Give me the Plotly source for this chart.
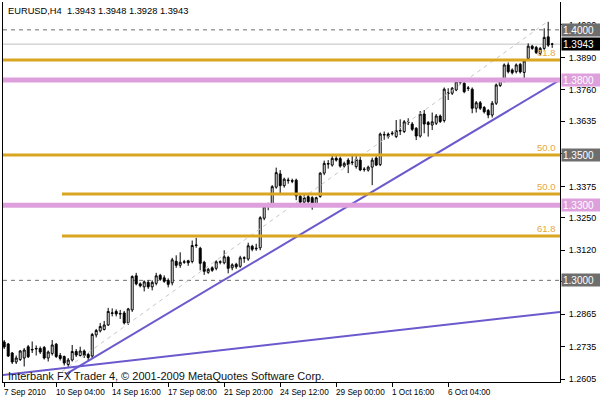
import plotly.graph_objects as go

# ---------------- data ----------------
opens = [1.2754,1.2746,1.2710,1.2674,1.2684,1.2690,1.2735,1.2722,1.2726,1.2728,
         1.2732,1.2690,1.2708,1.2745,1.2700,1.2696,1.2664,1.2682,1.2716,1.2700,
         1.2718,1.2704,1.2698,1.2782,1.2798,1.2804,1.2822,1.2868,1.2876,1.2868,
         1.2870,1.2830,1.2882,1.3018,1.2986,1.2974,1.2992,1.2974,1.2988,1.3020,
         1.3010,1.3000,1.2990,1.3076,1.3060,1.3072,1.3078,1.3075,1.3139,1.3128,
         1.3072,1.3032,1.3050,1.3048,1.3072,1.3070,1.3092,1.3050,1.3064,1.3056,
         1.3088,1.3085,1.3136,1.3126,1.3130,1.3248,1.3296,1.3300,1.3372,1.3425,
         1.3378,1.3398,1.3398,1.3400,1.3336,1.3312,1.3334,1.3330,1.3306,1.3335,
         1.3428,1.3464,1.3460,1.3487,1.3486,1.3456,1.3480,1.3470,1.3454,1.3480,
         1.3442,1.3440,1.3452,1.3488,1.3462,1.3580,1.3584,1.3585,1.3574,1.3596,
         1.3594,1.3630,1.3624,1.3607,1.3576,1.3664,1.3630,1.3620,1.3627,1.3656,
         1.3638,1.3746,1.3747,1.3760,1.3790,1.3787,1.3766,1.3763,1.3687,1.3709,
         1.3690,1.3678,1.3660,1.3707,1.3778,1.3798,1.3860,1.3840,1.3833,1.3862,
         1.3830,1.3886,1.3935,1.3930,1.3906,1.3926,1.3972,1.3943]
highs = [1.2762,1.2750,1.2714,1.2700,1.2722,1.2730,1.2742,1.2756,1.2740,1.2736,
         1.2738,1.2720,1.2762,1.2750,1.2710,1.2700,1.2690,1.2742,1.2726,1.2735,
         1.2724,1.2710,1.2790,1.2806,1.2830,1.2838,1.2890,1.2888,1.2884,1.2882,
         1.2878,1.2890,1.3020,1.3030,1.2992,1.3000,1.3000,1.3000,1.3030,1.3026,
         1.3020,1.3008,1.3090,1.3100,1.3112,1.3082,1.3082,1.3159,1.3170,1.3134,
         1.3078,1.3050,1.3056,1.3080,1.3080,1.3120,1.3098,1.3068,1.3070,1.3098,
         1.3096,1.3150,1.3142,1.3146,1.3256,1.3300,1.3310,1.3380,1.3450,1.3440,
         1.3410,1.3410,1.3406,1.3406,1.3340,1.3344,1.3342,1.3336,1.3334,1.3432,
         1.3478,1.3480,1.3500,1.3500,1.3494,1.3474,1.3488,1.3502,1.3496,1.3494,
         1.3452,1.3458,1.3490,1.3496,1.3590,1.3594,1.3590,1.3596,1.3640,1.3643,
         1.3640,1.3647,1.3632,1.3612,1.3676,1.3680,1.3636,1.3670,1.3664,1.3662,
         1.3770,1.3767,1.3772,1.3800,1.3800,1.3796,1.3776,1.3770,1.3716,1.3716,
         1.3696,1.3684,1.3716,1.3786,1.3806,1.3866,1.3870,1.3846,1.3866,1.3868,
         1.3880,1.3946,1.3940,1.3936,1.3932,1.4006,1.4032,1.3948]
lows = [1.2726,1.2694,1.2666,1.2666,1.2678,1.2656,1.2690,1.2710,1.2700,1.2706,
        1.2684,1.2676,1.2700,1.2690,1.2680,1.2660,1.2650,1.2676,1.2694,1.2696,
        1.2690,1.2680,1.2690,1.2772,1.2792,1.2800,1.2818,1.2856,1.2856,1.2846,
        1.2824,1.2822,1.2874,1.2980,1.2972,1.2956,1.2966,1.2960,1.2980,1.2998,
        1.2990,1.2972,1.2980,1.3050,1.3050,1.3066,1.3058,1.3068,1.3130,1.3040,
        1.3022,1.3026,1.3034,1.3040,1.3064,1.3064,1.3028,1.3040,1.3046,1.3050,
        1.3070,1.3078,1.3116,1.3118,1.3120,1.3240,1.3280,1.3292,1.3366,1.3348,
        1.3370,1.3386,1.3388,1.3320,1.3300,1.3306,1.3306,1.3282,1.3300,1.3330,
        1.3420,1.3446,1.3454,1.3474,1.3450,1.3450,1.3428,1.3460,1.3446,1.3436,
        1.3434,1.3434,1.3380,1.3456,1.3456,1.3561,1.3566,1.3578,1.3568,1.3580,
        1.3588,1.3620,1.3596,1.3560,1.3570,1.3587,1.3574,1.3600,1.3620,1.3628,
        1.3630,1.3720,1.3740,1.3755,1.3780,1.3747,1.3756,1.3667,1.3670,1.3680,
        1.3666,1.3647,1.3650,1.3700,1.3772,1.3790,1.3826,1.3822,1.3826,1.3826,
        1.3806,1.3880,1.3920,1.3904,1.3898,1.3920,1.3932,1.3928]
closes = [1.2734,1.2698,1.2674,1.2690,1.2718,1.2722,1.2695,1.2724,1.2728,1.2714,
          1.2690,1.2714,1.2742,1.2696,1.2688,1.2670,1.2682,1.2716,1.2702,1.2718,
          1.2700,1.2692,1.2784,1.2800,1.2816,1.2822,1.2876,1.2870,1.2866,1.2866,
          1.2830,1.2886,1.3015,1.2986,1.2978,1.2994,1.2974,1.2992,1.3018,1.3004,
          1.2996,1.2984,1.3082,1.3060,1.3072,1.3074,1.3070,1.3139,1.3141,1.3068,
          1.3036,1.3044,1.3040,1.3074,1.3074,1.3094,1.3048,1.3062,1.3054,1.3090,
          1.3090,1.3138,1.3124,1.3128,1.3250,1.3294,1.3298,1.3374,1.3430,1.3378,
          1.3404,1.3400,1.3396,1.3337,1.3312,1.3330,1.3314,1.3306,1.3330,1.3428,
          1.3467,1.3466,1.3487,1.3480,1.3456,1.3467,1.3461,1.3472,1.3483,1.3441,
          1.3444,1.3452,1.3480,1.3460,1.3584,1.3582,1.3574,1.3587,1.3598,1.3598,
          1.3633,1.3632,1.3603,1.3576,1.3664,1.3624,1.3622,1.3633,1.3656,1.3634,
          1.3763,1.3748,1.3767,1.3793,1.3792,1.3753,1.3768,1.3687,1.3709,1.3687,
          1.3673,1.3660,1.3707,1.3780,1.3800,1.3860,1.3833,1.3829,1.3860,1.3832,
          1.3876,1.3935,1.3926,1.3909,1.3926,1.3970,1.3939,1.3943]
bars = list(range(len(closes)))

# time axis labels (bar index, text)
time_tick_bars = [0, 13, 27, 41, 55, 69, 83, 97, 111]
time_tick_text = ["7 Sep 2010", "10 Sep 04:00", "14 Sep 16:00", "17 Sep 08:00",
                  "21 Sep 20:00", "24 Sep 12:00", "29 Sep 00:00", "1 Oct 16:00", "6 Oct 04:00"]

# price axis labels (the two under the price badges are hidden in the original)
price_ticks = [1.2605, 1.2735, 1.2865, 1.2995, 1.3120, 1.3250, 1.3375, 1.3505,
               1.3635, 1.3760, 1.3890, 1.4020]
price_hidden = [1.2995, 1.3505]

# fibonacci levels
fib_levels = [1.3880, 1.3500, 1.3345, 1.3177]
fib_labels = ["61.8", "50.0", "50.0", "61.8"]
fib_start = [None, None, 14.45, 14.45]
# support / resistance lines
pink_levels = [1.3800, 1.3300]
dash_levels = [1.4000, 1.3000]
bid_price = 1.3943

# trend lines (bar index, price)
trend1_x = [15.45, 138.95]
trend1_y = [1.2626, 1.3800]
trend2_x = [-0.3, 138.95]
trend2_y = [1.2622, 1.2874]
fib_base_x = [14.45, 136.0]
fib_base_y = [1.2636, 1.4035]

# price badges on the right axis
badge_prices = [1.4000, 1.3943, 1.3800, 1.3500, 1.3300, 1.3000]
badge_colors = ["#6e6e6e", "#000000", "#dda0dd", "#6e6e6e", "#dda0dd", "#6e6e6e"]

header = "EURUSD,H4\u00a0\u00a01.3943 1.3948 1.3928 1.3943"
watermark = "Interbank FX Trader 4, \u00a9 2001-2009 MetaQuotes Software Corp."

X_RANGE = [-0.3, 138.95]
Y_RANGE = [1.25942, 1.41112]

GOLD = "#daa520"
PINK = "#dda0dd"
BLUE = "#6a5acd"
FONT = "Liberation Sans, Arial, sans-serif"

fig = go.Figure()

# dashed fibo base line (behind candles)
fig.add_trace(go.Scatter(x=fib_base_x, y=fib_base_y, mode="lines",
                         line=dict(color="#c8c8c8", width=1, dash="4px,4px"),
                         hoverinfo="skip", showlegend=False))

fig.add_trace(go.Candlestick(
    x=bars, open=opens, high=highs, low=lows, close=closes,
    increasing=dict(line=dict(color="black", width=1), fillcolor="white"),
    decreasing=dict(line=dict(color="black", width=1), fillcolor="black"),
    whiskerwidth=0, showlegend=False, hoverinfo="skip"))

for tx, ty in [(trend1_x, trend1_y), (trend2_x, trend2_y)]:
    fig.add_trace(go.Scatter(x=tx, y=ty, mode="lines",
                             line=dict(color=BLUE, width=2),
                             hoverinfo="skip", showlegend=False))

shapes = []
for lv in dash_levels:
    shapes.append(dict(type="line", xref="paper", x0=0, x1=1, yref="y", y0=lv, y1=lv,
                       line=dict(color="#707070", width=1, dash="4px,4px"), layer="below"))
shapes.append(dict(type="line", xref="paper", x0=0, x1=1, yref="y", y0=bid_price, y1=bid_price,
                   line=dict(color="#c0c0c0", width=1), layer="below"))
for lv in pink_levels:
    shapes.append(dict(type="line", xref="paper", x0=0, x1=1, yref="y", y0=lv, y1=lv,
                       line=dict(color=PINK, width=5), layer="above"))
for lv, st in zip(fib_levels, fib_start):
    x0 = X_RANGE[0] if st is None else st
    shapes.append(dict(type="line", xref="x", x0=x0, x1=X_RANGE[1], yref="y", y0=lv, y1=lv,
                       line=dict(color=GOLD, width=3), layer="above"))

annotations = []
for lv, lab in zip(fib_levels, fib_labels):
    annotations.append(dict(xref="paper", x=1, xshift=-3, yref="y", y=lv, yshift=1,
                            xanchor="right", yanchor="bottom", text=lab, showarrow=False,
                            font=dict(family=FONT, size=9.5, color="#e6a83a"), borderpad=0))
for bp, bc in zip(badge_prices, badge_colors):
    annotations.append(dict(xref="paper", x=1, xshift=1, yref="y", y=bp, xanchor="left",
                            yanchor="middle", text=f"{bp:.4f}", showarrow=False,
                            bgcolor=bc, width=37, height=10, align="left", borderpad=1,
                            font=dict(family=FONT, size=10, color="white")))
for tb, tt in zip(time_tick_bars, time_tick_text):
    annotations.append(dict(xref="x", x=tb, yref="paper", y=0, yshift=-10, xshift=-2,
                            xanchor="left", yanchor="middle", text=tt, showarrow=False,
                            font=dict(family=FONT, size=8.2, color="black")))
annotations.append(dict(xref="paper", x=0, xshift=3, yref="paper", y=1, yshift=-9,
                        xanchor="left", yanchor="middle", text=header, showarrow=False,
                        font=dict(family=FONT, size=9.3, color="black")))
annotations.append(dict(xref="paper", x=0, xshift=3, yref="paper", y=0, yshift=6,
                        xanchor="left", yanchor="middle", text=watermark, showarrow=False,
                        font=dict(family=FONT, size=11, color="#111111")))

fig.update_layout(
    width=600, height=400,
    margin=dict(l=3, r=40, t=2, b=18, autoexpand=False),
    paper_bgcolor="white", plot_bgcolor="white",
    showlegend=False,
    shapes=shapes, annotations=annotations,
    xaxis=dict(range=X_RANGE, showgrid=False, zeroline=False, rangeslider=dict(visible=False),
               showline=True, linecolor="black", linewidth=1, automargin=False,
               tickvals=time_tick_bars, ticktext=[""] * len(time_tick_bars),
               ticks="outside", ticklen=4, tickcolor="black", showticklabels=False),
    yaxis=dict(range=Y_RANGE, side="right", showgrid=False, zeroline=False,
               showline=True, linecolor="black", linewidth=1, mirror=True, automargin=False,
               tickvals=price_ticks,
               ticktext=["" if v in price_hidden else f"{v:.4f}" for v in price_ticks],
               ticks="outside", ticklen=4, tickcolor="black", ticklabelstandoff=2,
               tickfont=dict(family=FONT, size=9, color="black")),
)

fig.write_html("out.html", config={"displayModeBar": False},
               post_script="document.body.style.margin='0';")
